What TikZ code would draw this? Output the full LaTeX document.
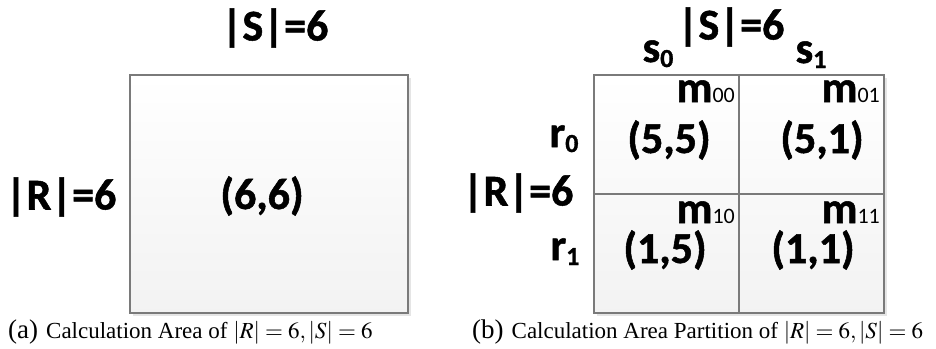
\documentclass[tikz,border=0pt]{standalone}
\usepackage{mathptmx}
\usepackage{fontspec}
\setmainfont{Liberation Serif}
\newfontfamily\labelfont{Carlito}[BoldFeatures={FakeBold=1.2}]
\usepackage{tikz}
\usetikzlibrary{shadows, positioning}

\definecolor{framegray}{HTML}{7A7A7A}
\newcommand{\lowsub}[1]{\raisebox{-5pt}{\fontsize{26}{30}\selectfont #1}}
\newcommand{\cellsub}[1]{{\mdseries\fontsize{22}{26}\selectfont #1}}

\begin{document}
\begin{tikzpicture}[
    x=1pt, y=-1pt,
    area/.style={draw=framegray, line width=2.5pt, top color=white, bottom color=black!5,
        inner sep=0pt, general shadow={fill=black!10, shadow xshift=3pt, shadow yshift=-3pt}},
    big/.style={font=\labelfont\bfseries\fontsize{44}{52}\selectfont, inner sep=0pt},
    caplabel/.style={font=\fontsize{27}{31}\selectfont, inner sep=0pt, anchor=base west},
    divider/.style={draw=framegray, line width=2.5pt}
]
\useasboundingbox (0,0) rectangle (936,348);

% (a) whole area
\node[area, minimum width=278pt, minimum height=238pt] (whole) at (269,194) {};
\node[big] (sizeS) at (275,28) {|S|=6};
\node[big] (sizeR) at (61,197) {|R|=6};
\node[big] (cellA) at (262,196) {(6,6)};
\node[caplabel] (capA) at (8,338) {(a)\hspace{8pt}{\fontsize{23}{27}\selectfont Calculation Area of $|R|=6, |S|=6$}};

% (b) partitioned area
\node[area, minimum width=290pt, minimum height=238pt] (grid) at (739,194) {};
\draw[divider] (grid.north) -- (grid.south);
\draw[divider] (grid.west) -- (grid.east);

\node[big] (sizeS2) at (731,27) {|S|=6};
\node[big] (sizeR2) at (518,193) {|R|=6};
\node[big, anchor=base] (s0) at (658,62) {s\lowsub{0}};
\node[big, anchor=base] (s1) at (811,63) {s\lowsub{1}};
\node[big, anchor=base] (r0) at (564,147) {r\lowsub{0}};
\node[big, anchor=base] (r1) at (565,260) {r\lowsub{1}};

\node[big, anchor=base east] (m00) at (735,102) {m\cellsub{00}};
\node[big, anchor=base east] (m01) at (880,102) {m\cellsub{01}};
\node[big, anchor=base east] (m10) at (735,223) {m\cellsub{10}};
\node[big, anchor=base east] (m11) at (880,223) {m\cellsub{11}};

\node[big] (v55) at (669,140) {(5,5)};
\node[big] (v51) at (822,140) {(5,1)};
\node[big] (v15) at (665,250) {(1,5)};
\node[big] (v11) at (813,250) {(1,1)};

\node[caplabel] (capB) at (472,338) {(b)\hspace{8pt}{\fontsize{23}{27}\selectfont Calculation Area Partition of $|R|=6, |S|=6$}};
\end{tikzpicture}
\end{document}
